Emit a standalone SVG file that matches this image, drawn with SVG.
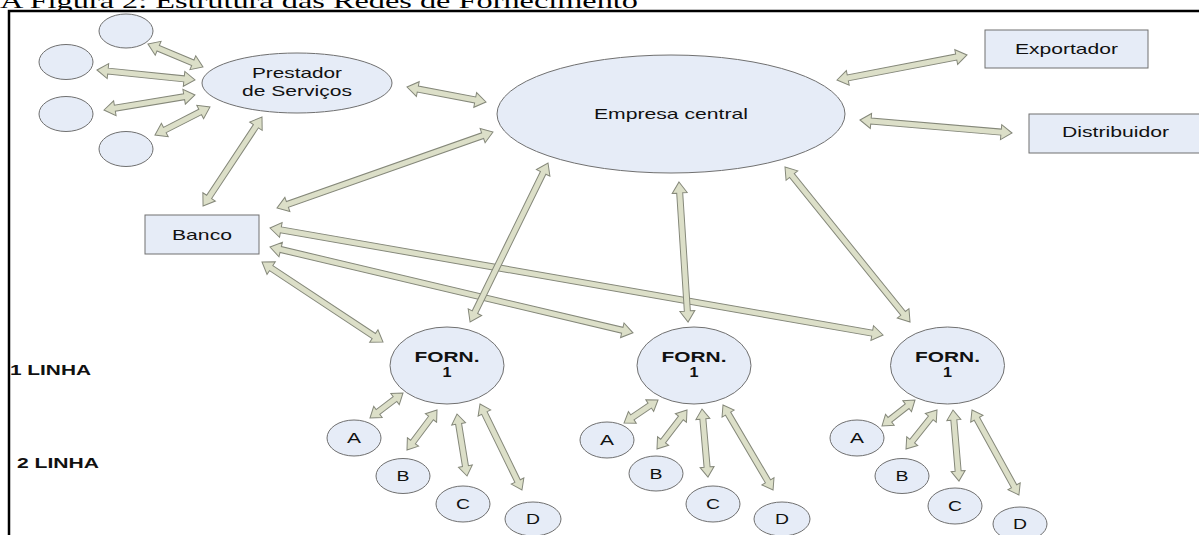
<svg xmlns="http://www.w3.org/2000/svg" width="1199" height="535" viewBox="0 0 1199 535">
<style>
.n{fill:#e6ecf7;stroke:#707070;stroke-width:1}
.t{font-family:"Liberation Sans",Arial,sans-serif;font-size:15px;fill:#111;text-anchor:middle}
.b{font-weight:bold}
.ar path{fill:#dcdfc8;stroke:#85887a;stroke-width:1;stroke-linejoin:miter}
.fr{stroke:#000;stroke-width:2.5;fill:none}
</style>
<defs>
<clipPath id="tc"><rect x="0" y="0" width="1199" height="10"/></clipPath>
</defs>
<rect width="1199" height="535" fill="#fff"/>
<text x="0" y="8" clip-path="url(#tc)" font-family="Liberation Serif,'Times New Roman',serif" font-size="22" fill="#000" textLength="638" lengthAdjust="spacingAndGlyphs">A Figura 2: Estrutura das Redes de Fornecimento</text>
<path class="fr" d="M9 535 V11 H1199"/>

<g id="connectors" class="ar">
<path transform="translate(148,44) rotate(22.7)" d="M0 0 L11 -7.5 L11 -3 L48.6 -3 L48.6 -7.5 L59.6 0 L48.6 7.5 L48.6 3 L11 3 L11 7.5 Z"/>
<path transform="translate(97,70) rotate(5.8)" d="M0 0 L11 -7.5 L11 -3 L87.5 -3 L87.5 -7.5 L98.5 0 L87.5 7.5 L87.5 3 L11 3 L11 7.5 Z"/>
<path transform="translate(104,110) rotate(-9.4)" d="M0 0 L11 -7.5 L11 -3 L81.2 -3 L81.2 -7.5 L92.2 0 L81.2 7.5 L81.2 3 L11 3 L11 7.5 Z"/>
<path transform="translate(155,135) rotate(-27)" d="M0 0 L11 -7.5 L11 -3 L50.7 -3 L50.7 -7.5 L61.7 0 L50.7 7.5 L50.7 3 L11 3 L11 7.5 Z"/>
<path transform="translate(262,117) rotate(123.5)" d="M0 0 L11 -7.5 L11 -3 L95.8 -3 L95.8 -7.5 L106.8 0 L95.8 7.5 L95.8 3 L11 3 L11 7.5 Z"/>
<path transform="translate(493,132) rotate(160.6)" d="M0 0 L11 -7.5 L11 -3 L218 -3 L218 -7.5 L229 0 L218 7.5 L218 3 L11 3 L11 7.5 Z"/>
<path transform="translate(407,87) rotate(10.75)" d="M0 0 L11 -7.5 L11 -3 L69.4 -3 L69.4 -7.5 L80.4 0 L69.4 7.5 L69.4 3 L11 3 L11 7.5 Z"/>
<path transform="translate(837,80) rotate(-10.9)" d="M0 0 L11 -7.5 L11 -3 L121.4 -3 L121.4 -7.5 L132.4 0 L121.4 7.5 L121.4 3 L11 3 L11 7.5 Z"/>
<path transform="translate(860,120) rotate(4.9)" d="M0 0 L11 -7.5 L11 -3 L141.6 -3 L141.6 -7.5 L152.6 0 L141.6 7.5 L141.6 3 L11 3 L11 7.5 Z"/>
<path transform="translate(270,228) rotate(9.9)" d="M0 0 L11 -7.5 L11 -3 L611.3 -3 L611.3 -7.5 L622.3 0 L611.3 7.5 L611.3 3 L11 3 L11 7.5 Z"/>
<path transform="translate(270,247) rotate(13.3)" d="M0 0 L11 -7.5 L11 -3 L362 -3 L362 -7.5 L373 0 L362 7.5 L362 3 L11 3 L11 7.5 Z"/>
<path transform="translate(262,262) rotate(33.5)" d="M0 0 L11 -7.5 L11 -3 L134.1 -3 L134.1 -7.5 L145.1 0 L134.1 7.5 L134.1 3 L11 3 L11 7.5 Z"/>
<path transform="translate(548,163) rotate(116.1)" d="M0 0 L11 -7.5 L11 -3 L166.1 -3 L166.1 -7.5 L177.1 0 L166.1 7.5 L166.1 3 L11 3 L11 7.5 Z"/>
<path transform="translate(679,182) rotate(86.3)" d="M0 0 L11 -7.5 L11 -3 L129.3 -3 L129.3 -7.5 L140.3 0 L129.3 7.5 L129.3 3 L11 3 L11 7.5 Z"/>
<path transform="translate(785,167) rotate(51.1)" d="M0 0 L11 -7.5 L11 -3 L188.1 -3 L188.1 -7.5 L199.1 0 L188.1 7.5 L188.1 3 L11 3 L11 7.5 Z"/>

<path transform="translate(403,393) rotate(142.9)" d="M0 0 L10 -7 L10 -3 L31.4 -3 L31.4 -7 L41.4 0 L31.4 7 L31.4 3 L10 3 L10 7 Z"/>
<path transform="translate(437,410) rotate(126.9)" d="M0 0 L10 -7 L10 -3 L40 -3 L40 -7 L50 0 L40 7 L40 3 L10 3 L10 7 Z"/>
<path transform="translate(457,414) rotate(80.8)" d="M0 0 L10 -7 L10 -3 L52.8 -3 L52.8 -7 L62.8 0 L52.8 7 L52.8 3 L10 3 L10 7 Z"/>
<path transform="translate(480,404) rotate(64)" d="M0 0 L10 -7 L10 -3 L85.7 -3 L85.7 -7 L95.7 0 L85.7 7 L85.7 3 L10 3 L10 7 Z"/>
<path transform="translate(658,400) rotate(145.9)" d="M0 0 L10 -7 L10 -3 L31 -3 L31 -7 L41 0 L31 7 L31 3 L10 3 L10 7 Z"/>
<path transform="translate(687,410) rotate(127.6)" d="M0 0 L10 -7 L10 -3 L39.2 -3 L39.2 -7 L49.2 0 L39.2 7 L39.2 3 L10 3 L10 7 Z"/>
<path transform="translate(702,409) rotate(85)" d="M0 0 L10 -7 L10 -3 L58.3 -3 L58.3 -7 L68.3 0 L58.3 7 L58.3 3 L10 3 L10 7 Z"/>
<path transform="translate(723,405) rotate(59.5)" d="M0 0 L10 -7 L10 -3 L88.6 -3 L88.6 -7 L98.6 0 L88.6 7 L88.6 3 L10 3 L10 7 Z"/>
<path transform="translate(915,400) rotate(141.8)" d="M0 0 L10 -7 L10 -3 L32 -3 L32 -7 L42 0 L32 7 L32 3 L10 3 L10 7 Z"/>
<path transform="translate(937,410) rotate(128.5)" d="M0 0 L10 -7 L10 -3 L39.8 -3 L39.8 -7 L49.8 0 L39.8 7 L39.8 3 L10 3 L10 7 Z"/>
<path transform="translate(953,410) rotate(85.2)" d="M0 0 L10 -7 L10 -3 L61.3 -3 L61.3 -7 L71.3 0 L61.3 7 L61.3 3 L10 3 L10 7 Z"/>
<path transform="translate(972,410) rotate(61.1)" d="M0 0 L10 -7 L10 -3 L87.1 -3 L87.1 -7 L97.1 0 L87.1 7 L87.1 3 L10 3 L10 7 Z"/>
</g>

<g id="sat1"><ellipse class="n" cx="126" cy="31" rx="27" ry="17"/></g>
<g id="sat2"><ellipse class="n" cx="66" cy="62" rx="27" ry="17.5"/></g>
<g id="sat3"><ellipse class="n" cx="66" cy="114" rx="27" ry="17.5"/></g>
<g id="sat4"><ellipse class="n" cx="126" cy="149" rx="27" ry="17.5"/></g>

<g id="prestador"><ellipse class="n" cx="297" cy="83" rx="95" ry="30"/>
<text class="t" x="297" y="78" textLength="90" lengthAdjust="spacingAndGlyphs">Prestador</text>
<text class="t" x="297" y="96" textLength="110" lengthAdjust="spacingAndGlyphs">de Serviços</text></g>

<g id="empresa"><ellipse class="n" cx="671" cy="114" rx="174" ry="59"/>
<text class="t" x="671" y="119" textLength="154" lengthAdjust="spacingAndGlyphs">Empresa central</text></g>

<g id="exportador"><rect class="n" x="985" y="30" width="163" height="38"/>
<text class="t" x="1066.5" y="54" textLength="103" lengthAdjust="spacingAndGlyphs">Exportador</text></g>

<g id="distribuidor"><rect class="n" x="1029" y="114" width="175" height="39"/>
<text class="t" x="1115.5" y="137" textLength="107" lengthAdjust="spacingAndGlyphs">Distribuidor</text></g>

<g id="banco"><rect class="n" x="145" y="215" width="114" height="39"/>
<text class="t" x="202" y="240" textLength="60" lengthAdjust="spacingAndGlyphs">Banco</text></g>

<g id="forn1"><ellipse class="n" cx="447" cy="365.5" rx="57" ry="38.5"/>
<text class="t b" x="447" y="362" textLength="65" lengthAdjust="spacingAndGlyphs">FORN.</text>
<text class="t b" x="447" y="377" textLength="9" lengthAdjust="spacingAndGlyphs">1</text></g>
<g id="forn2"><ellipse class="n" cx="694" cy="365.5" rx="57" ry="38.5"/>
<text class="t b" x="694" y="362" textLength="65" lengthAdjust="spacingAndGlyphs">FORN.</text>
<text class="t b" x="694" y="377" textLength="9" lengthAdjust="spacingAndGlyphs">1</text></g>
<g id="forn3"><ellipse class="n" cx="947.5" cy="365.5" rx="57" ry="38.5"/>
<text class="t b" x="947.5" y="362" textLength="65" lengthAdjust="spacingAndGlyphs">FORN.</text>
<text class="t b" x="947.5" y="377" textLength="9" lengthAdjust="spacingAndGlyphs">1</text></g>

<g id="f1a"><ellipse class="n" cx="354" cy="438" rx="27" ry="18"/><text class="t" x="354" y="443" textLength="14" lengthAdjust="spacingAndGlyphs">A</text></g>
<g id="f1b"><ellipse class="n" cx="403" cy="476" rx="27" ry="17.5"/><text class="t" x="403" y="481" textLength="13" lengthAdjust="spacingAndGlyphs">B</text></g>
<g id="f1c"><ellipse class="n" cx="463" cy="504" rx="27" ry="18"/><text class="t" x="463" y="509" textLength="14" lengthAdjust="spacingAndGlyphs">C</text></g>
<g id="f1d"><ellipse class="n" cx="533" cy="519" rx="28" ry="17"/><text class="t" x="533" y="524" textLength="14" lengthAdjust="spacingAndGlyphs">D</text></g>

<g id="f2a"><ellipse class="n" cx="607" cy="440" rx="27" ry="18"/><text class="t" x="607" y="445" textLength="14" lengthAdjust="spacingAndGlyphs">A</text></g>
<g id="f2b"><ellipse class="n" cx="656" cy="473.5" rx="27" ry="17.5"/><text class="t" x="656" y="478.5" textLength="13" lengthAdjust="spacingAndGlyphs">B</text></g>
<g id="f2c"><ellipse class="n" cx="713" cy="504" rx="27" ry="18"/><text class="t" x="713" y="509" textLength="14" lengthAdjust="spacingAndGlyphs">C</text></g>
<g id="f2d"><ellipse class="n" cx="782" cy="519" rx="28" ry="17"/><text class="t" x="782" y="524" textLength="14" lengthAdjust="spacingAndGlyphs">D</text></g>

<g id="f3a"><ellipse class="n" cx="857" cy="438" rx="27" ry="18"/><text class="t" x="857" y="443" textLength="14" lengthAdjust="spacingAndGlyphs">A</text></g>
<g id="f3b"><ellipse class="n" cx="902" cy="476" rx="27" ry="17.5"/><text class="t" x="902" y="481" textLength="13" lengthAdjust="spacingAndGlyphs">B</text></g>
<g id="f3c"><ellipse class="n" cx="955" cy="506" rx="27" ry="18"/><text class="t" x="955" y="511" textLength="14" lengthAdjust="spacingAndGlyphs">C</text></g>
<g id="f3d"><ellipse class="n" cx="1020" cy="524" rx="27" ry="17"/><text class="t" x="1020" y="529" textLength="14" lengthAdjust="spacingAndGlyphs">D</text></g>

<g id="labels">
<text class="t b" x="10" y="375" style="text-anchor:start" textLength="81" lengthAdjust="spacingAndGlyphs">1 LINHA</text>
<text class="t b" x="17" y="468" style="text-anchor:start" textLength="82" lengthAdjust="spacingAndGlyphs">2 LINHA</text>
</g>
</svg>
